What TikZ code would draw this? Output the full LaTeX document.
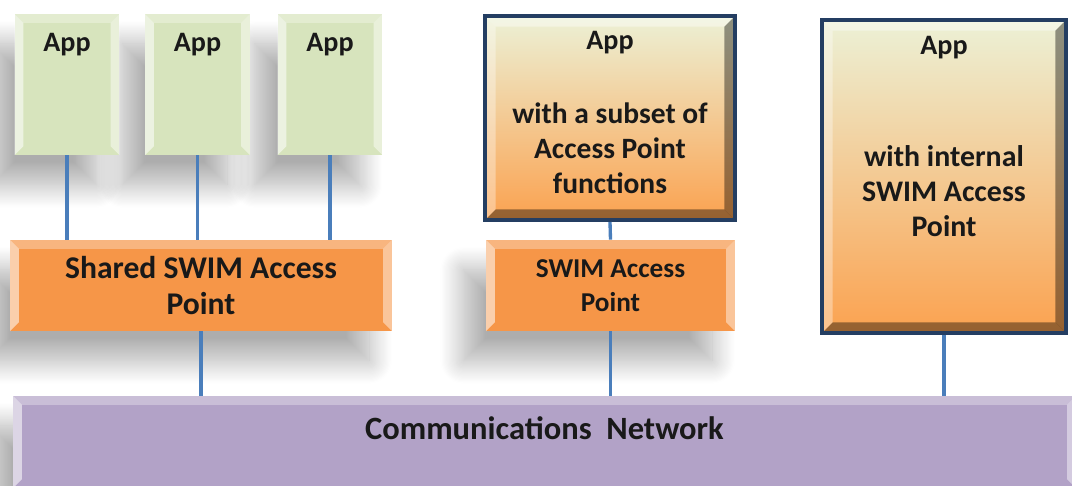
\documentclass[tikz,border=0pt]{standalone}
\usepackage{fontspec}
\setmainfont{Carlito}
\usetikzlibrary{shadows.blur}
\definecolor{appgreen}{RGB}{215,228,189}
\definecolor{aporange}{RGB}{246,150,72}
\definecolor{netpurple}{RGB}{178,162,199}
\definecolor{framenavy}{RGB}{36,62,98}
\definecolor{linkblue}{RGB}{74,126,187}
\definecolor{gradtop}{RGB}{236,241,214}
\definecolor{gradbot}{RGB}{251,162,80}
\definecolor{inkblack}{RGB}{25,25,25}
\tikzset{
  soft bevel/.style={path picture={
      \coordinate (bb-nw) at (path picture bounding box.north west);
      \coordinate (bb-ne) at (path picture bounding box.north east);
      \coordinate (bb-sw) at (path picture bounding box.south west);
      \coordinate (bb-se) at (path picture bounding box.south east);
      \fill[white, opacity=.55] (bb-nw) -- (bb-sw) -- ([shift={(5pt,5pt)}]bb-sw)
        -- ([shift={(5pt,-5pt)}]bb-nw) -- cycle;
      \fill[white, opacity=.45] (bb-ne) -- (bb-se) -- ([shift={(-5pt,5pt)}]bb-se)
        -- ([shift={(-5pt,-5pt)}]bb-ne) -- cycle;
      \fill[white, opacity=.3] (bb-nw) -- (bb-ne) -- ([shift={(-5pt,-5pt)}]bb-ne)
        -- ([shift={(5pt,-5pt)}]bb-nw) -- cycle;}},
  hard bevel/.style={path picture={
      \coordinate (bb-nw) at (path picture bounding box.north west);
      \coordinate (bb-ne) at (path picture bounding box.north east);
      \coordinate (bb-sw) at (path picture bounding box.south west);
      \coordinate (bb-se) at (path picture bounding box.south east);
      \fill[white, opacity=.35] (bb-nw) -- (bb-sw) -- ([shift={(6pt,6pt)}]bb-sw)
        -- ([shift={(6pt,-6pt)}]bb-nw) -- cycle;
      \fill[white, opacity=.4] (bb-nw) -- (bb-ne) -- ([shift={(-6pt,-6pt)}]bb-ne)
        -- ([shift={(6pt,-6pt)}]bb-nw) -- cycle;
      \fill[black, opacity=.4] (bb-ne) -- (bb-se) -- ([shift={(-6pt,6pt)}]bb-se)
        -- ([shift={(-6pt,-6pt)}]bb-ne) -- cycle;
      \fill[black, opacity=.4] (bb-sw) -- (bb-se) -- ([shift={(-6pt,6pt)}]bb-se)
        -- ([shift={(6pt,6pt)}]bb-sw) -- cycle;}},
  drop/.style={blur shadow={shadow xshift=-13pt, shadow yshift=-17pt,
      shadow blur radius=13pt, shadow blur steps=20, shadow opacity=32}},
  bigtext/.style={font=\bfseries\fontsize{16}{19.8}\selectfont, text=inkblack},
  appbox/.style={drop, soft bevel, fill=appgreen, minimum width=2.1cm,
      minimum height=2.82cm, inner sep=0pt},
  apbox/.style={drop, soft bevel, fill=aporange, inner sep=0pt, align=center,
      text=inkblack},
  ownbox/.style={hard bevel, top color=gradtop, bottom color=gradbot,
      draw=framenavy, line width=2.3pt, inner sep=0pt},
  link/.style={draw=linkblue, line width=1.9pt}
}
\begin{document}
\begin{tikzpicture}[x=0.02cm, y=-0.02cm, bigtext]
  \useasboundingbox (0,0) rectangle (1072,485);
  % network along the bottom
  \node [drop, soft bevel, fill=netpurple, minimum width=21.26cm,
    minimum height=1.84cm, inner sep=0pt,
    label={[anchor=center, yshift=.28cm, font=\bfseries\fontsize{18.5}{21}\selectfont]center:Communications~~Network}]
    (comm) at (544.5,442) {};
  % three apps on one shared access point (right to left, so no shadow falls on a box)
  \node [appbox, label={[anchor=center, yshift=-.62cm]north:App}] (app3) at (330,84.5) {};
  \node [appbox, label={[anchor=center, yshift=-.62cm]north:App}] (app2) at (197.5,84.5) {};
  \node [appbox, label={[anchor=center, yshift=-.62cm]north:App}] (app1) at (67,84.5) {};
  \node [apbox, minimum width=7.64cm, minimum height=1.82cm,
    font=\bfseries\fontsize{18}{21}\selectfont]
    (shared) at (201,285.5) {Shared SWIM Access\\Point};
  % app with part of the access point
  \node [ownbox, minimum width=5.0cm, minimum height=4.08cm,
    label={[anchor=center, yshift=-.58cm]north:App},
    label={[anchor=center, yshift=-.6cm, align=center, font=\bfseries\fontsize{16.8}{19.8}\selectfont]center:with a subset of\\Access Point\\functions}]
    (subset) at (610,118) {};
  \node [apbox, minimum width=4.98cm, minimum height=1.82cm,
    font=\bfseries\fontsize{15.5}{19}\selectfont]
    (swimap) at (610.5,285.5) {SWIM Access\\Point};
  % app with its own access point
  \node [ownbox, minimum width=4.88cm, minimum height=6.26cm,
    label={[anchor=center, yshift=-.6cm]north:App},
    label={[anchor=center, yshift=-.29cm, align=center, font=\bfseries\fontsize{17}{20}\selectfont]center:with internal\\SWIM Access\\Point}]
    (internal) at (944,176.5) {};
  % connections
  \draw [link] (app1.south) -- (app1.south |- shared.north);
  \draw [link] (app2.south) -- (app2.south |- shared.north);
  \draw [link] (app3.south) -- (app3.south |- shared.north);
  \draw [link] (shared.south) -- (shared.south |- comm.north);
  \draw [link] (subset.south) -- (swimap.north);
  \draw [link] (swimap.south) -- (swimap.south |- comm.north);
  \draw [link] (internal.south) -- (internal.south |- comm.north);
\end{tikzpicture}
\end{document}
